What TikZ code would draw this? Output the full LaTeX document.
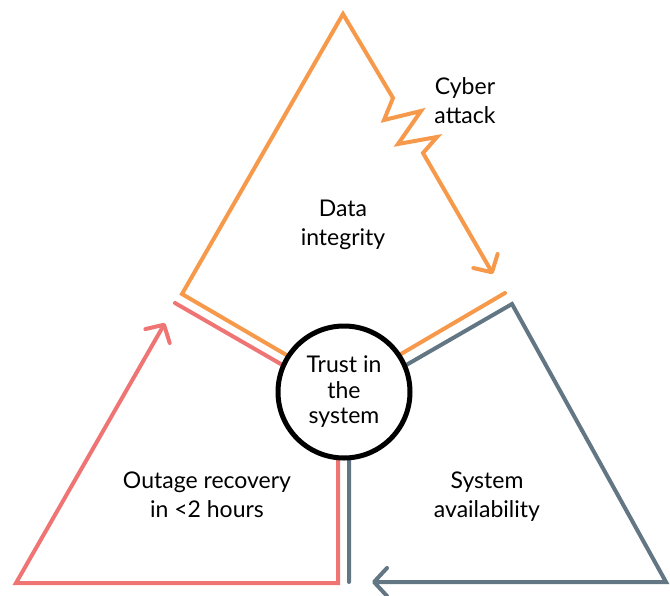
\documentclass[tikz,border=0pt]{standalone}
\usepackage{fontspec}
\setmainfont{Lato}
\usepackage{tikz}
\usetikzlibrary{arrows.meta}
\definecolor{dataorange}{RGB}{246,153,75}
\definecolor{outagered}{RGB}{239,117,117}
\definecolor{availgrey}{RGB}{99,118,131}
\tikzset{
  loopline/.style={line width=4pt, line cap=round},
  barb/.style={-{Straight Barb[length=13pt,width=28pt,round]}},
  txt/.style={align=center, anchor=base, inner sep=0pt,
    font=\fontsize{23}{29}\selectfont}
}

\begin{document}
\begin{tikzpicture}[x=1pt,y=-1pt]
  \useasboundingbox (0,0) rectangle (670,595);
  % corners of the three loops
  \coordinate (apex) at (343,14);
  \coordinate (oL) at (182,294);
  \coordinate (oC) at (343,388);
  \coordinate (oR) at (505,293);
  \coordinate (z1) at (393,98);
  \coordinate (z2) at (384,120);
  \coordinate (z3) at (421,111);
  \coordinate (z4) at (398,144);
  \coordinate (z5) at (437,137);
  \coordinate (z6) at (423,153);
  \coordinate (oTip) at (493,274);
  \coordinate (rT) at (175,303);
  \coordinate (rC) at (338,397);
  \coordinate (rB) at (338,583);
  \coordinate (rL) at (16,583);
  \coordinate (rTip) at (165,323);
  \coordinate (gT) at (512,304);
  \coordinate (gC) at (349,398);
  \coordinate (gB) at (349,582);
  \coordinate (gR) at (666,582);
  \coordinate (gTip) at (372,582);

  \draw [loopline, dataorange, barb]
    (oR) -- (oC) -- (oL) -- (apex) -- (z1) -- (z2) -- (z3) -- (z4) -- (z5) -- (z6) -- (oTip);
  \draw [loopline, outagered, barb]
    (rT) -- (rC) -- (rB) -- (rL) -- (rTip);
  \draw [loopline, availgrey, barb]
    (gB) -- (gC) -- (gT) -- (gR) -- (gTip);

  \node (trust) [circle, draw, line width=5pt, fill=white, minimum size=132pt,
    align=center, font=\fontsize{23}{25.5}\selectfont] at (344,392) {Trust in\\the\\system};

  % base is the last line here
  \node (cyber) [txt] at (465,123) {Cyber\\attack};
  \node (data) [txt] at (343,245) {Data\\integrity};
  \node (outage) [txt] at (207,517) {Outage recovery\\in <2 hours};
  \node (avail) [txt] at (487,517) {System\\availability};
\end{tikzpicture}
\end{document}
